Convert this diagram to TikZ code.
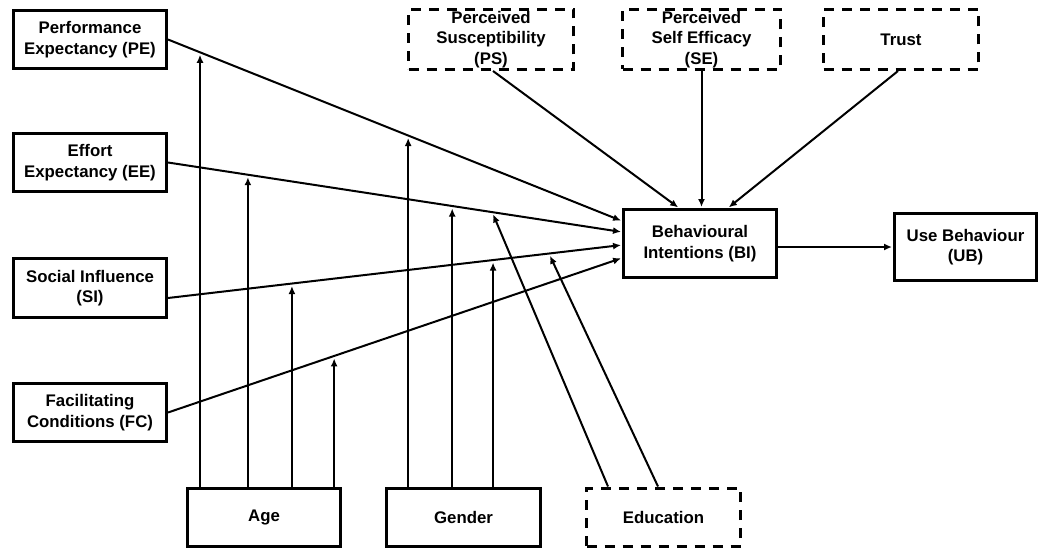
\documentclass[tikz,border=0pt]{standalone}
\usepackage{fontspec}
\setmainfont{Liberation Sans}
\usetikzlibrary{arrows.meta,calc}

\begin{document}
\begin{tikzpicture}[x=1pt,y=-1pt,
  box/.style={draw, line width=3pt, inner sep=0pt, align=center,
    font=\bfseries\fontsize{16.8}{20.5}\selectfont},
  dbox/.style={box, dash pattern=on 10pt off 8pt},
  arr/.style={line width=2pt, -{Latex[length=8pt,width=7pt]}, shorten >=1pt},
  modarr/.style={arr, shorten >=2.5pt}]
\useasboundingbox (0,0) rectangle (1040,548);

% predictors
\node[box, minimum width=153pt, minimum height=58pt] (PE) at (90,39.5) {Performance\\Expectancy (PE)};
\node[box, minimum width=153pt, minimum height=58pt] (EE) at (90,162.5) {Effort\\Expectancy (EE)};
\node[box, minimum width=153pt, minimum height=59pt] (SI) at (90,288) {Social Influence\\(SI)};
\node[box, minimum width=153pt, minimum height=58pt] (FC) at (90,412.5) {Facilitating\\Conditions (FC)};

% additional constructs
\node[dbox, minimum width=165pt, minimum height=60pt] (PS) at (491,39.5) {Perceived\\Susceptibility\\(PS)};
\node[dbox, minimum width=158pt, minimum height=60pt] (SE) at (701.5,39.5) {Perceived\\Self Efficacy\\(SE)};
\node[dbox, minimum width=155pt, minimum height=60pt] (TR) at (901,39.5) {Trust};

% outcomes
\node[box, minimum width=153pt, minimum height=68pt] (BI) at (700,243.5) {Behavioural\\Intentions (BI)};
\node[box, minimum width=142pt, minimum height=67pt] (UB) at (965.5,247) {Use Behaviour\\(UB)};

% moderators
\node[box, minimum width=153pt, minimum height=58pt] (AG) at (264,517) {Age};
\node[box, minimum width=154pt, minimum height=58pt] (GE) at (463.5,517) {Gender};
\node[dbox, minimum width=154pt, minimum height=58pt] (ED) at (663.5,517) {Education};

% direct paths into BI
\draw[arr] (PE.east) -- ([yshift=22.5pt]BI.west)
  coordinate[pos=0.0705] (pe-age) coordinate[pos=0.529] (pe-gen);
\draw[arr] (EE.east) -- ([yshift=11.5pt]BI.west)
  coordinate[pos=0.176] (ee-age) coordinate[pos=0.626] (ee-gen) coordinate[pos=0.714] (ee-edu);
\draw[arr] ([yshift=-10pt]SI.east) -- ([yshift=-1.5pt]BI.west)
  coordinate[pos=0.273] (si-age) coordinate[pos=0.716] (si-gen) coordinate[pos=0.839] (si-edu);
\draw[arr] (FC.east) -- ([yshift=-14.5pt]BI.west)
  coordinate[pos=0.366] (fc-age);

\draw[arr] ([xshift=2pt]PS.south) -- ([xshift=-21pt]BI.north);
\draw[arr] (SE.south) -- (SE.south |- BI.north);
\draw[arr] ([xshift=-3pt]TR.south) -- ([xshift=28pt]BI.north);

\draw[arr] (BI.east |- UB.west) -- (UB.west);

% moderating effects
\draw[modarr] (AG.north -| pe-age) -- (pe-age);
\draw[modarr] (AG.north -| ee-age) -- (ee-age);
\draw[modarr] (AG.north -| si-age) -- (si-age);
\draw[modarr] (AG.north -| fc-age) -- (fc-age);

\draw[modarr] (GE.north -| pe-gen) -- (pe-gen);
\draw[modarr] (GE.north -| ee-gen) -- (ee-gen);
\draw[modarr] (GE.north -| si-gen) -- (si-gen);

\draw[modarr] ([xshift=-55.5pt]ED.north) -- (ee-edu);
\draw[modarr] ([xshift=-5.5pt]ED.north) -- (si-edu);
\end{tikzpicture}
\end{document}
